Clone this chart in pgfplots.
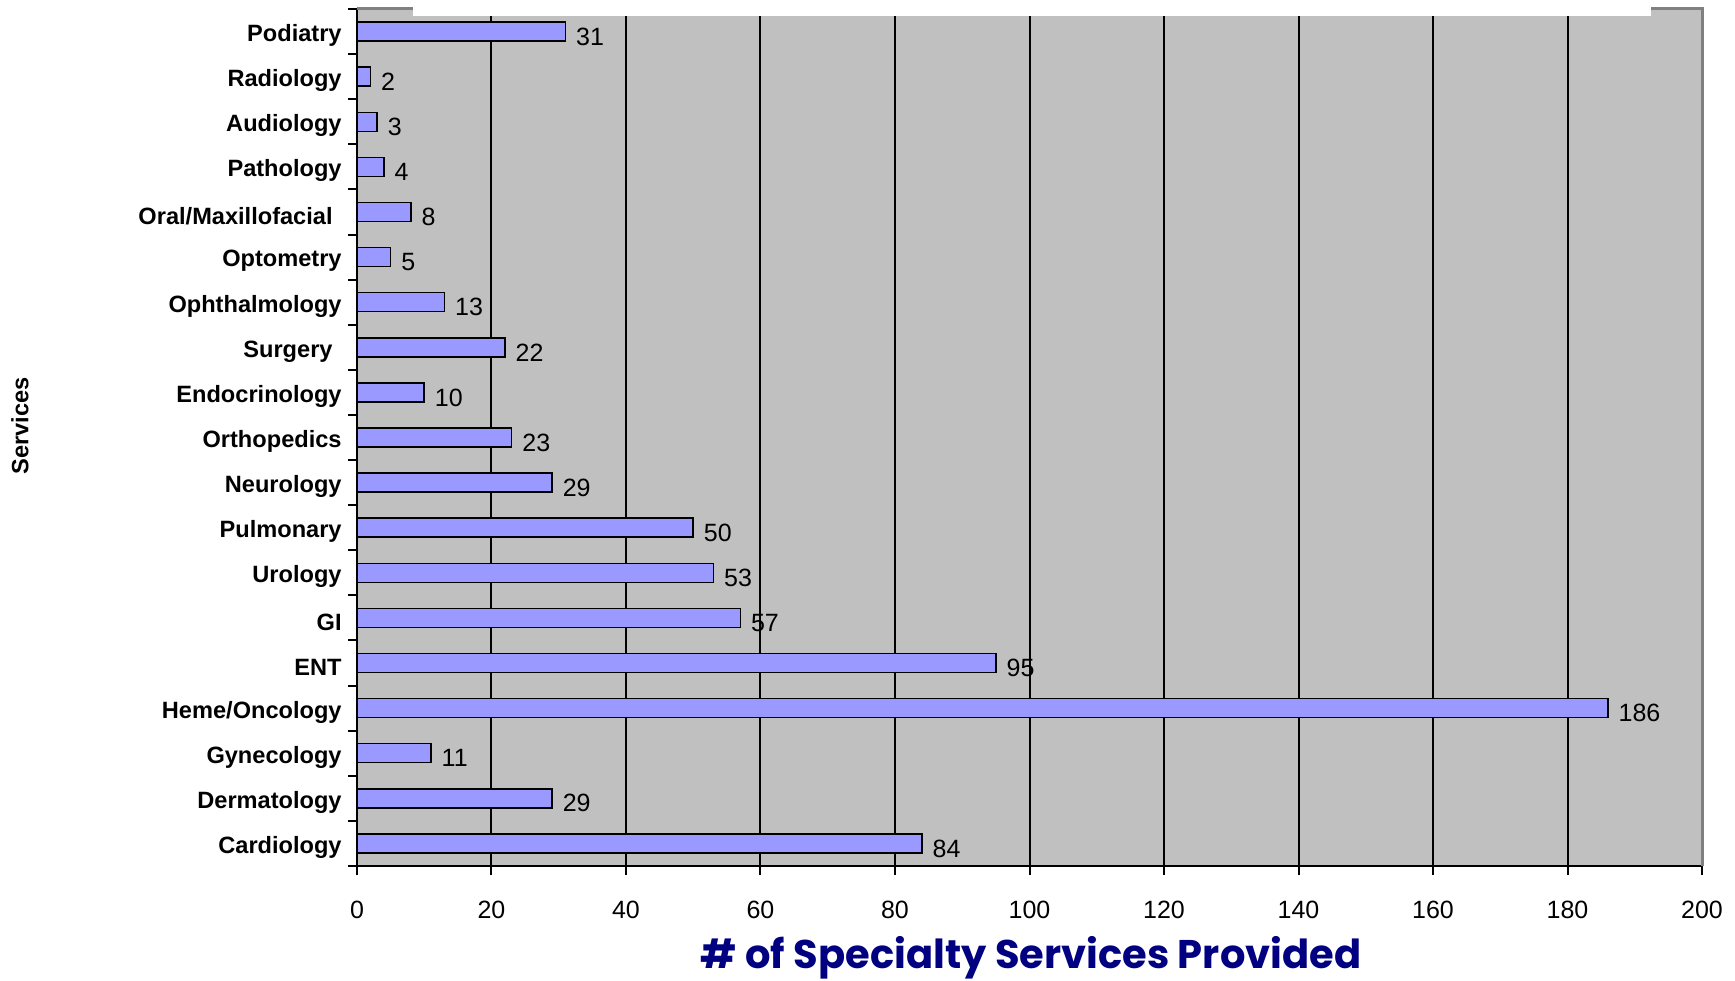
\documentclass[border=0pt]{standalone}
\usepackage{fontspec}
\setmainfont{Liberation Sans}
\newfontfamily\titlefont{Poppins}
\usepackage{pgfplots}
\pgfplotsset{compat=1.18}

\definecolor{plotgrey}{HTML}{C0C0C0}
\definecolor{framegrey}{HTML}{808080}
\definecolor{barblue}{HTML}{9999FF}
\definecolor{navy}{HTML}{000080}

\begin{document}
\begin{tikzpicture}
\begin{axis}[
  scale only axis,
  width=672.5pt, height=428.5pt,
  xbar,
  bar width=9.5pt,
  xmin=0, xmax=200,
  ymin=-0.5, ymax=18.5,
  xtick={0,20,...,200},
  ytick={0,...,18},
  yticklabels={Cardiology,Dermatology,Gynecology,Heme/Oncology,ENT,GI,Urology,Pulmonary,Neurology,Orthopedics,Endocrinology,{Surgery\kern4.5pt},Ophthalmology,Optometry,{Oral/Maxillofacial\kern4.5pt},Pathology,Audiology,Radiology,Podiatry},
  minor ytick={-0.5,0.5,...,18.5},
  axis x line*=bottom,
  axis y line*=left,
  axis line style={black, line width=1pt, -},
  axis background/.style={fill=plotgrey},
  xmajorgrids,
  major grid style={black, line width=1pt},
  tick style={black, line width=1pt},
  xtick align=outside,
  ytick align=outside,
  major tick length=4.5pt,
  minor tick length=4.5pt,
  major y tick style={draw=none},
  minor y tick style={black, line width=1pt},
  /pgf/number format/assume math mode=true,
  xticklabel style={font=\fontsize{12.5}{14}\selectfont, anchor=base, yshift=-21.8pt, inner sep=0pt},
  yticklabel style={font=\bfseries\fontsize{11.8}{14}\selectfont, anchor=east, inner sep=0pt, xshift=-3pt, yshift=-2pt},
  nodes near coords,
  nodes near coords style={font=\fontsize{12.5}{14}\selectfont, anchor=west, inner sep=0pt, xshift=5pt, yshift=-2.5pt, black},
  clip=false,
]
\addplot[draw=black, line width=0.75pt, fill=barblue] coordinates {
  (84,0) (29,1) (11,2) (186,3) (95,4) (57,5) (53,6) (50,7) (29,8) (23,9)
  (10,10) (22,11) (13,12) (5,13) (8,14) (4,15) (3,16) (2,17) (31,18)
};
% frame: grey right and top edges, white band over the top
\draw[framegrey, line width=1.5pt] (rel axis cs:1,0) -- (rel axis cs:1,1) -- (rel axis cs:0,1);
\fill[white] (rel axis cs:0.0416,0.9924) rectangle (rel axis cs:0.962,1.03);
\end{axis}
\node[rotate=90, font=\bfseries\fontsize{11.8}{14}\selectfont] at (-168.5pt,220pt) {Services};
\node[font=\titlefont\bfseries\fontsize{20}{23}\selectfont, text=navy, inner sep=0pt] at (337pt,-46pt) {\# of Specialty Services Provided};
\pgfresetboundingbox
\path (-178.5pt,-57pt) rectangle (689pt,433pt);
\end{tikzpicture}
\end{document}
